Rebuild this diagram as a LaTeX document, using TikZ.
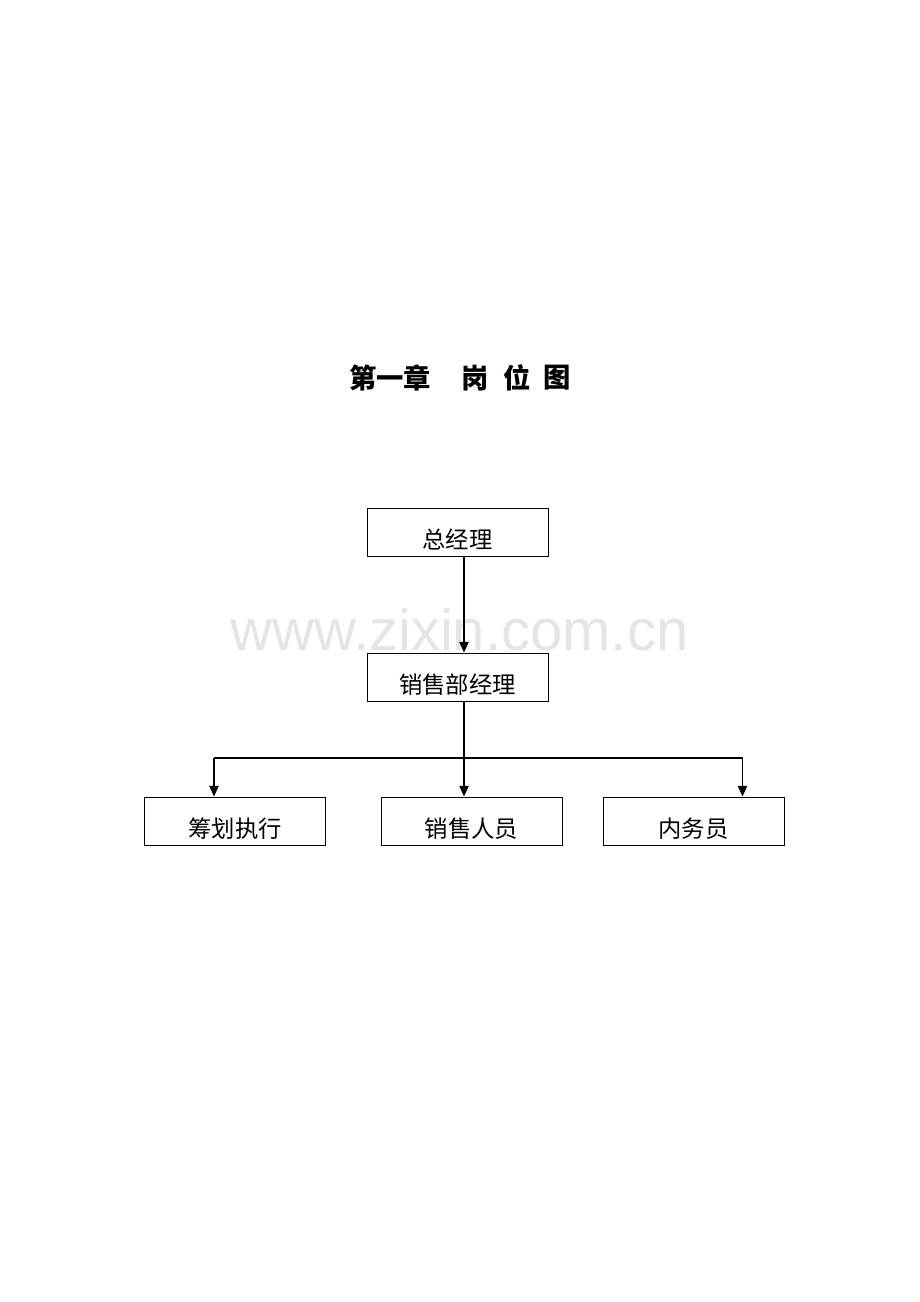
\documentclass[tikz,border=0pt]{standalone}
\usepackage{fontspec}
\setmainfont{Liberation Sans}
\newfontfamily\cjk{Noto Sans CJK SC}
\usetikzlibrary{arrows.meta}
\tikzset{
  px/.style={x=0.75pt,y=-0.75pt},
  orgbox/.style={draw=black,line width=0.75pt,minimum width=135.75pt,inner sep=0pt,
    text height=30pt,text depth=6pt,font=\cjk\fontsize{17.5pt}{20pt}\selectfont},
  conn/.style={line width=1pt,draw=black},
  arr/.style={conn,-{Triangle[length=8pt,width=7pt]}},
  titlefont/.style={font=\cjk\bfseries\fontsize{20.5pt}{24pt}\selectfont,inner sep=0pt},
  wmark/.style={font=\fontsize{43.5pt}{48pt}\selectfont,text=black!10,inner sep=0pt,anchor=base}
}
\begin{document}
\begin{tikzpicture}[px]
\useasboundingbox (0,0) rectangle (920,1302);
% title
\node[titlefont] (t1) at (390,378) {第一章};
\node[titlefont] (t2) at (475,378) {岗};
\node[titlefont] (t3) at (517.5,378) {位};
\node[titlefont] (t4) at (557.5,378) {图};
% watermark
\node[wmark] (wm) at (459.5,650) {www.zixin.com.cn};
% boxes
\node[orgbox] (gm) at (457.5,532) {总经理};
\node[orgbox] (sm) at (457.5,677) {销售部经理};
\node[orgbox] (b1) at (235,821) {筹划执行};
\node[orgbox] (b2) at (471.5,821) {销售人员};
\node[orgbox] (b3) at (693.5,821) {内务员};
% connectors
\coordinate (j1) at (464,758);
\coordinate (jl) at (214,758);
\coordinate (jr) at (742.5,758);
\draw[arr] (gm.south -| j1) -- (sm.north -| j1);
\draw[arr] (sm.south -| j1) -- (b2.north -| j1);
\draw[conn] (jl) -- (jr);
\draw[arr] (jl) -- (b1.north -| jl);
\draw[arr] (jr) -- (b3.north -| jr);
\end{tikzpicture}
\end{document}
